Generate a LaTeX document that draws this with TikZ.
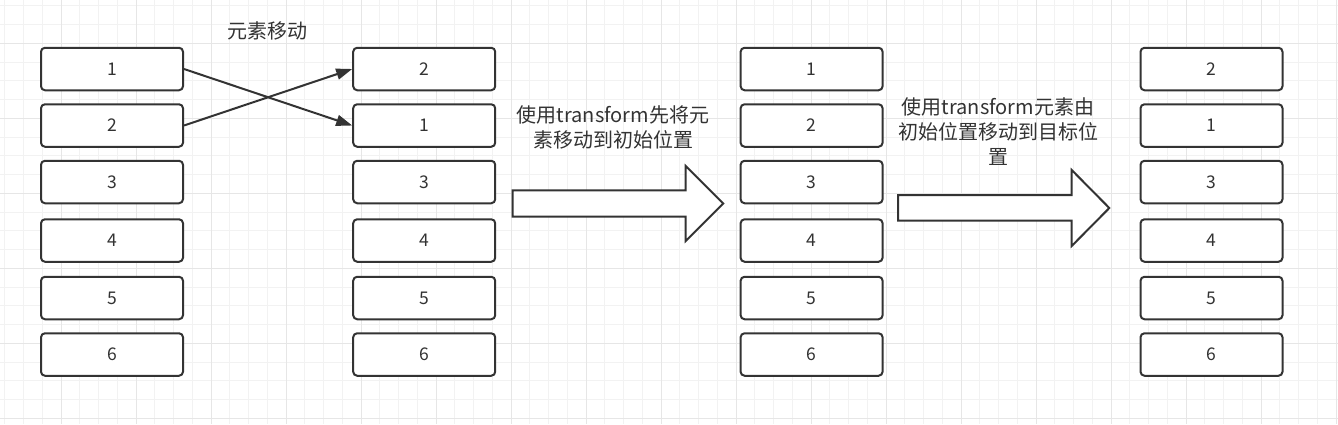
\documentclass[tikz,border=0pt]{standalone}
\usepackage{fontspec}
\newfontfamily\cjk{Noto Sans CJK SC}
\usetikzlibrary{arrows.meta}
\definecolor{ink}{HTML}{333333}
\definecolor{gridminor}{HTML}{F2F2F2}
\definecolor{gridmajor}{HTML}{E6E6E6}
\tikzset{
  cell/.style={draw=ink, line width=2pt, rounded corners=4pt, fill=white,
    minimum width=142pt, minimum height=42.5pt, inner sep=0pt,
    font=\cjk\fontsize{17.5}{17.5}\selectfont, text=ink},
  mover/.style={draw=ink, line width=2pt, -{Triangle[length=16pt,width=11pt]}},
  blockarrow/.style={draw=ink, line width=2pt, fill=white, line join=miter},
  caption/.style={font=\cjk\fontsize{20}{25}\selectfont, text=ink, align=center, inner sep=0pt}
}
\begin{document}
\begin{tikzpicture}[x=1pt,y=-1pt]
\useasboundingbox (0,0) rectangle (1338,424);
\fill[white] (0,0) rectangle (1338,424);
% grid
\foreach \k in {0,...,71}{
  \pgfmathsetmacro{\gx}{4.75+18.75*\k}
  \draw[gridminor, line width=1pt] (\gx,0) -- (\gx,424);
}
\foreach \k in {0,...,22}{
  \pgfmathsetmacro{\gy}{5.75+18.75*\k}
  \draw[gridminor, line width=1pt] (0,\gy) -- (1338,\gy);
}
\foreach \k in {0,...,17}{
  \pgfmathsetmacro{\gx}{61+75*\k}
  \draw[gridmajor, line width=1pt] (\gx,0) -- (\gx,424);
}
\foreach \k in {0,...,5}{
  \pgfmathsetmacro{\gy}{43.5+75*\k}
  \draw[gridmajor, line width=1pt] (0,\gy) -- (1338,\gy);
}
% columns of cells
\foreach \col/\cx/\labels in {1/112/{1,2,3,4,5,6}, 2/424.2/{2,1,3,4,5,6}, 3/811.6/{1,2,3,4,5,6}, 4/1211.5/{2,1,3,4,5,6}}{
  \foreach \lab [count=\r] in \labels {
    \pgfmathsetmacro{\cy}{{69,125.5,182,240.5,298,354.5}[\r-1]}
    \node[cell] (c\col r\r) at (\cx,\cy) {\lab};
  }
}
% title
\node[caption] (title) at (267,31) {元素移动};
% crossing moves
\draw[mover] (c1r1.east) -- (c2r2.west);
\draw[mover] (c1r2.east) -- (c2r1.west);
% captions
\node[caption] (cap1) at (613,127.5) {使用transform先将元\\素移动到初始位置};
\node[caption] (cap2) at (998,131.7) {使用transform元素由\\初始位置移动到目标位\\置};
% block arrows
\draw[blockarrow] (512.7,190.3) -- (685.7,190.3) -- (685.7,166) -- (723.3,203.5)
  -- (685.7,241) -- (685.7,216.7) -- (512.7,216.7) -- cycle;
\draw[blockarrow] (898,195) -- (1071.7,195) -- (1071.7,170) -- (1109.3,208)
  -- (1071.7,246) -- (1071.7,220.5) -- (898,220.5) -- cycle;
\end{tikzpicture}
\end{document}
